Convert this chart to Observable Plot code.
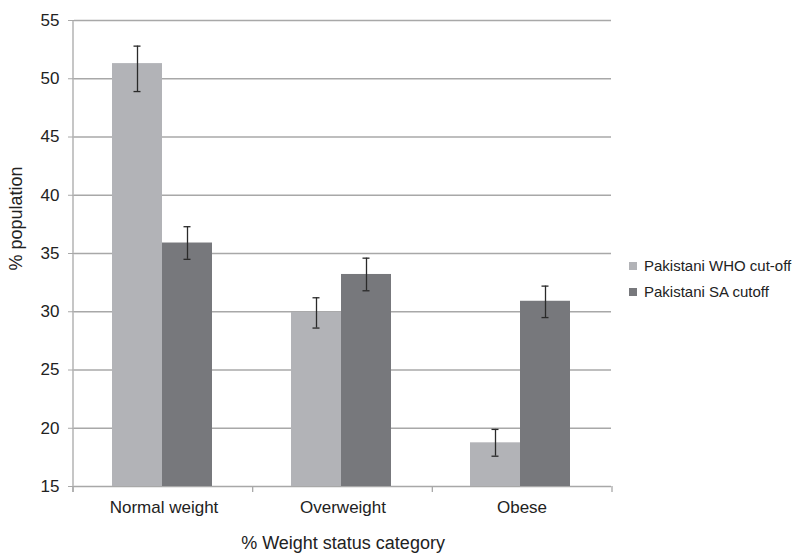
<!DOCTYPE html>
<html>
<head>
<meta charset="utf-8">
<script src="https://cdn.jsdelivr.net/npm/d3@7"></script>
<script src="https://cdn.jsdelivr.net/npm/@observablehq/plot@0.6"></script>
<style>
  html, body { margin: 0; padding: 0; background: #fff; }
  #wrap { position: relative; width: 800px; height: 560px; font-family: "Liberation Sans", Arial, sans-serif; color: #222; }
  #legend { position: absolute; left: 629px; top: 253px; font-size: 15px; line-height: 26px; }
  #legend .item { display: flex; align-items: center; white-space: nowrap; }
  #legend .sw { width: 8px; height: 8px; margin-right: 7px; }
</style>
</head>
<body>
<div id="wrap"></div>
<script>
const categories = ["Normal weight", "Overweight", "Obese"];
const series = ["Pakistani WHO cut-off", "Pakistani SA cutoff"];
const whoValues = [51.3, 29.95, 18.75];
const whoLow = [48.9, 28.6, 17.6];
const whoHigh = [52.8, 31.2, 19.9];
const saValues = [35.9, 33.2, 30.9];
const saLow = [34.5, 31.8, 29.5];
const saHigh = [37.3, 34.6, 32.2];
const yTicks = [15, 20, 25, 30, 35, 40, 45, 50, 55];
const colors = ["#b2b3b7", "#77787c"];
const xTitle = "% Weight status category";
const yTitle = "% population";

const rows = [];
categories.forEach((c, i) => {
  rows.push({category: c, series: series[0], value: whoValues[i], lo: whoLow[i], hi: whoHigh[i]});
  rows.push({category: c, series: series[1], value: saValues[i], lo: saLow[i], hi: saHigh[i]});
});

const gridColor = "#a8a8a8";
const yMin = yTicks[0], yMax = yTicks[yTicks.length - 1];

const chart = Plot.plot({
  width: 800,
  height: 560,
  marginLeft: 73,
  marginRight: 188,
  marginTop: 20,
  marginBottom: 74,
  style: {fontFamily: "'Liberation Sans', Arial, sans-serif", fontSize: "17px", color: "#222", background: "white"},
  fx: {domain: categories, padding: 0, label: null},
  x: {domain: series, paddingInner: 0, paddingOuter: 0.76, align: 0.48, axis: null},
  y: {domain: [yMin, yMax], label: null},
  color: {domain: series, range: colors},
  marks: [
    Plot.ruleY(yTicks, {stroke: gridColor, strokeWidth: 1.3}),
    Plot.barY(rows, {fx: "category", x: "series", y1: () => yMin, y2: "value", fill: "series"}),
    Plot.ruleX(rows, {fx: "category", x: "series", y1: "lo", y2: "hi", stroke: "#2a2a2a", strokeWidth: 1.3}),
    Plot.tickY(rows, {fx: "category", x: "series", y: "hi", stroke: "#2a2a2a", strokeWidth: 1.3, insetLeft: 21.5, insetRight: 21.5}),
    Plot.tickY(rows, {fx: "category", x: "series", y: "lo", stroke: "#2a2a2a", strokeWidth: 1.3, insetLeft: 21.5, insetRight: 21.5}),
    Plot.axisY({ticks: yTicks, tickSize: 6, tickPadding: 9, stroke: gridColor, label: null, fontSize: 17}),
    Plot.axisFx({anchor: "bottom", tickSize: 0, tickPadding: 14, label: null, fontSize: 17}),
    Plot.text([yTitle], {fx: () => categories[0], frameAnchor: "left", rotate: -90, dx: -58, dy: 17, fontSize: 18, text: d => d}),
    Plot.text([xTitle], {fx: () => categories[1], frameAnchor: "bottom", dy: 62, fontSize: 18, text: d => d})
  ]
});

// axis line and category boundary ticks, from the plot's own scales
const fxd = chart.scale("fx");
const yd = chart.scale("y");
const fxScale = d3.scaleBand().domain(fxd.domain).range(fxd.range)
  .paddingInner(fxd.paddingInner ?? 0).paddingOuter(fxd.paddingOuter ?? 0).align(fxd.align ?? 0.5);
const yScale = d3.scaleLinear().domain(yd.domain).range(yd.range);
const svg = d3.select(chart.tagName.toLowerCase() === "svg" ? chart : chart.querySelector("svg"));
const g = svg.append("g").attr("stroke", gridColor).attr("stroke-width", 1.3);
const x0 = fxScale(categories[0]);
g.append("line").attr("x1", x0).attr("x2", x0).attr("y1", yScale(yMax)).attr("y2", yScale(yMin) + 6);
const edges = categories.map(c => fxScale(c)).concat([fxScale(categories[categories.length - 1]) + fxScale.bandwidth()]);
edges.forEach(e => {
  g.append("line").attr("x1", e).attr("x2", e).attr("y1", yScale(yMin)).attr("y2", yScale(yMin) + 6);
});

const wrap = document.getElementById("wrap");
wrap.appendChild(chart);
const legend = document.createElement("div");
legend.id = "legend";
series.forEach((s, i) => {
  const item = document.createElement("div");
  item.className = "item";
  const sw = document.createElement("span");
  sw.className = "sw";
  sw.style.background = colors[i];
  const t = document.createElement("span");
  t.textContent = s;
  item.appendChild(sw);
  item.appendChild(t);
  legend.appendChild(item);
});
wrap.appendChild(legend);
</script>
</body>
</html>
